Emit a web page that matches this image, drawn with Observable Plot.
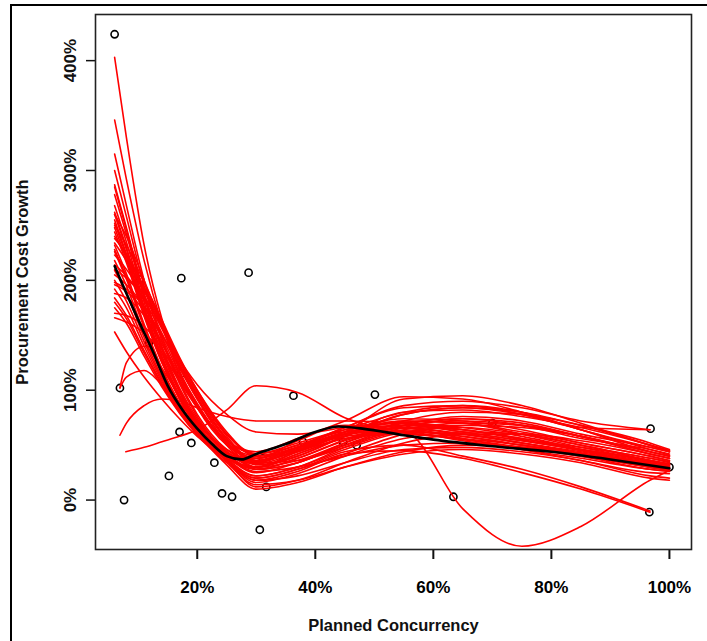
<!DOCTYPE html>
<html>
<head>
<meta charset="utf-8">
<script src="https://cdn.jsdelivr.net/npm/d3@7"></script>
<script src="https://cdn.jsdelivr.net/npm/@observablehq/plot@0.6"></script>
<style>
  html, body { margin: 0; padding: 0; background: #fff; overflow: hidden; }
  #wrap { position: relative; width: 707px; height: 641px; }
  #border { position: absolute; left: 10px; top: 4px; width: 720px; height: 660px; border: 2px solid #000; box-sizing: border-box; pointer-events: none; }
  #chart { position: absolute; left: 0; top: 0; }
</style>
</head>
<body>
<div id="wrap"><div id="chart"></div><div id="border"></div></div>
<script>
// Observed data points (Planned Concurrency %, Procurement Cost Growth %)
const ptX = [6.0, 6.9, 7.6, 10.3, 11.8, 15.2, 17.2, 17.3, 17.0, 19.0, 22.9, 24.2, 25.9, 28.7, 30.6, 31.1, 31.7, 36.3, 37.9, 44.7, 47.0, 50.1, 63.4, 70.0, 96.6, 96.8, 100.0];
const ptY = [424, 102, 0, 201, 143, 22, 115, 202, 62, 52, 34, 6, 3, 207, -27, 38, 12, 95, 53, 53, 50, 96, 3, 70, -11, 65, 30];

// Main loess fit (black)
const fitX = [6, 8, 10, 12.5, 15, 17.5, 20, 22.5, 25, 27.5, 30, 35, 40, 44, 48, 55, 60, 70, 80, 90, 100];
const fitY = [213, 188, 164, 135, 104, 82, 65, 51, 40, 37, 42, 51, 62, 67, 65, 59, 55, 49, 44, 37, 29];

// Bootstrap loess fits (red): values at knots; first knot x can differ per curve
const knots = [6, 8, 11, 14, 17, 20, 25, 30, 37, 45, 55, 65, 75, 85, 96.7, 100];
const bootStartX = [6,6,6,6,6,6,6,6,6,6,6,6,6,6,6,6,6,6,6,6,6,6,6,6,6,6,6,6,6,6,6,6,6,6,6,6,6.9,6.9,6.9,7.9,6,6,6];
const bootY = [
  [403,330,232,165,118,86,52,40,48,60,63,58,50,42,33,30],
  [346,292,218,160,115,84,50,38,47,60,65,60,52,43,34,31],
  [315,268,200,148,108,78,46,35,45,60,68,64,55,45,35,32],
  [300,258,195,145,106,76,44,30,40,58,72,70,60,48,36,33],
  [287,248,188,140,102,74,43,33,44,62,74,72,64,52,40,36],
  [278,242,184,137,100,72,42,28,38,55,70,74,68,56,46,42],
  [268,235,180,134,98,70,40,25,34,50,68,76,72,60,48,44],
  [260,228,175,130,95,68,38,22,30,48,66,74,70,58,44,40],
  [255,224,172,128,94,68,40,30,42,58,78,84,78,66,64,null],
  [248,219,169,126,93,68,42,34,48,66,86,90,84,72,64,null],
  [240,222,192,160,126,96,56,32,40,58,80,82,76,66,50,45],
  [234,218,190,158,124,94,54,28,34,52,72,80,78,68,52,46],
  [228,203,158,119,88,64,36,20,28,42,60,68,66,58,44,40],
  [223,210,186,156,122,92,52,30,36,52,68,72,68,58,42,38],
  [218,195,152,115,86,63,36,22,30,46,62,66,60,50,38,35],
  [214,204,182,152,120,92,56,36,44,60,72,70,62,52,40,36],
  [209,188,148,112,85,63,38,28,38,54,66,64,56,46,36,33],
  [205,196,176,148,116,88,50,28,34,50,62,60,52,42,30,28],
  [200,181,144,110,83,62,38,30,42,56,60,55,48,40,30,27],
  [196,190,172,144,114,86,52,36,48,62,62,54,46,38,28,26],
  [192,175,140,108,82,62,42,38,54,68,66,56,46,36,25,24],
  [188,184,168,142,112,86,54,42,52,64,70,66,58,46,30,27],
  [184,168,136,106,81,62,40,26,30,40,50,52,48,40,28,26],
  [180,165,134,105,80,60,36,18,22,34,46,48,44,36,22,20],
  [175,161,131,103,79,59,34,14,18,30,42,46,42,34,20,18],
  [170,168,158,138,110,84,52,38,48,62,92,95,86,70,50,45],
  [166,162,152,134,108,84,54,44,56,72,94,92,80,64,44,40],
  [285,246,186,138,99,70,36,18,26,42,45,38,25,10,-11,null],
  [262,230,176,131,95,68,37,20,28,44,50,40,28,12,-10,null],
  [250,232,198,164,130,100,60,40,50,64,80,86,80,64,48,44],
  [244,216,167,125,92,66,36,16,24,40,56,62,60,50,36,32],
  [238,224,194,162,128,98,58,34,36,48,64,70,68,58,42,38],
  [232,206,160,120,88,62,32,10,16,30,44,50,48,42,30,28],
  [226,201,157,118,87,63,36,12,18,34,52,60,60,54,42,38],
  [153,135,112,92,74,58,40,35,45,58,62,58,50,42,33,30],
  [252,222,170,126,92,66,38,30,44,56,62,-8,-42,-24,18,27],
  [102,125,140,120,95,72,44,34,46,60,66,60,52,44,34,31],
  [102,112,118,105,88,70,46,36,48,62,68,62,54,46,36,32],
  [59,70,86,92,90,84,76,72,72,72,70,62,54,46,36,32],
  [44,null,48,53,58,64,82,104,98,75,62,56,50,42,32,29],
  [260,240,200,160,128,105,78,62,60,66,70,64,56,48,38,34],
  [210,202,184,158,128,100,62,40,46,60,78,84,80,68,50,44],
  [198,192,176,150,122,96,60,42,50,66,84,86,78,64,46,41]
];

const xTicks = [20, 40, 60, 80, 100];
const yTicks = [0, 100, 200, 300, 400];
const xTitle = "Planned Concurrency";
const yTitle = "Procurement Cost Growth";

const points = ptX.map((x, i) => ({x, y: ptY[i]}));
const fit = fitX.map((x, i) => ({x, y: fitY[i]}));
const boot = [];
bootY.forEach((row, i) => {
  row.forEach((v, j) => {
    if (v == null) return;
    boot.push({id: i, x: j === 0 ? bootStartX[i] : knots[j], y: v});
  });
});

const FONT = "'Liberation Sans', Arial, sans-serif";

const chart = Plot.plot({
  width: 707,
  height: 641,
  marginLeft: 95,
  marginRight: 16,
  marginTop: 14,
  marginBottom: 92,
  style: {fontFamily: FONT, background: "#fff", overflow: "visible"},
  x: {domain: [2.76, 103.74]},
  y: {domain: [-45, 442]},
  marks: [
    Plot.axisX({ticks: xTicks, tickSize: 10, tickPadding: 21, tickFormat: d => d + "%", fontSize: 17, fontWeight: "bold", label: null, stroke: "#111", strokeWidth: 2}),
    Plot.axisY({ticks: yTicks, tickSize: 9, tickFormat: () => "", label: null, stroke: "#111", strokeWidth: 1.5}),
    Plot.text(yTicks, {y: d => d, text: d => d + "%", frameAnchor: "left", dx: -25, rotate: -90, textAnchor: "middle", lineAnchor: "middle", fontSize: 17, fontWeight: "bold", fill: "#111"}),
    Plot.text([yTitle], {frameAnchor: "left", dx: -73, rotate: -90, textAnchor: "middle", lineAnchor: "middle", fontSize: 16.5, fontWeight: "bold", fill: "#111"}),
    Plot.text([xTitle], {frameAnchor: "bottom", dy: 76, textAnchor: "middle", lineAnchor: "middle", fontSize: 16.5, fontWeight: "bold", fill: "#111"}),
    Plot.dot(points, {x: "x", y: "y", r: 3.6, stroke: "#000", strokeWidth: 1.6, fill: "none"}),
    Plot.line(boot, {x: "x", y: "y", z: "id", stroke: "#ff0000", strokeWidth: 1.6, curve: "monotone-x"}),
    Plot.line(fit, {x: "x", y: "y", stroke: "#000", strokeWidth: 2.6, curve: "monotone-x"}),
    Plot.frame({stroke: "#222", strokeWidth: 1.6})
  ]
});
document.getElementById("chart").appendChild(chart);
</script>
</body>
</html>
